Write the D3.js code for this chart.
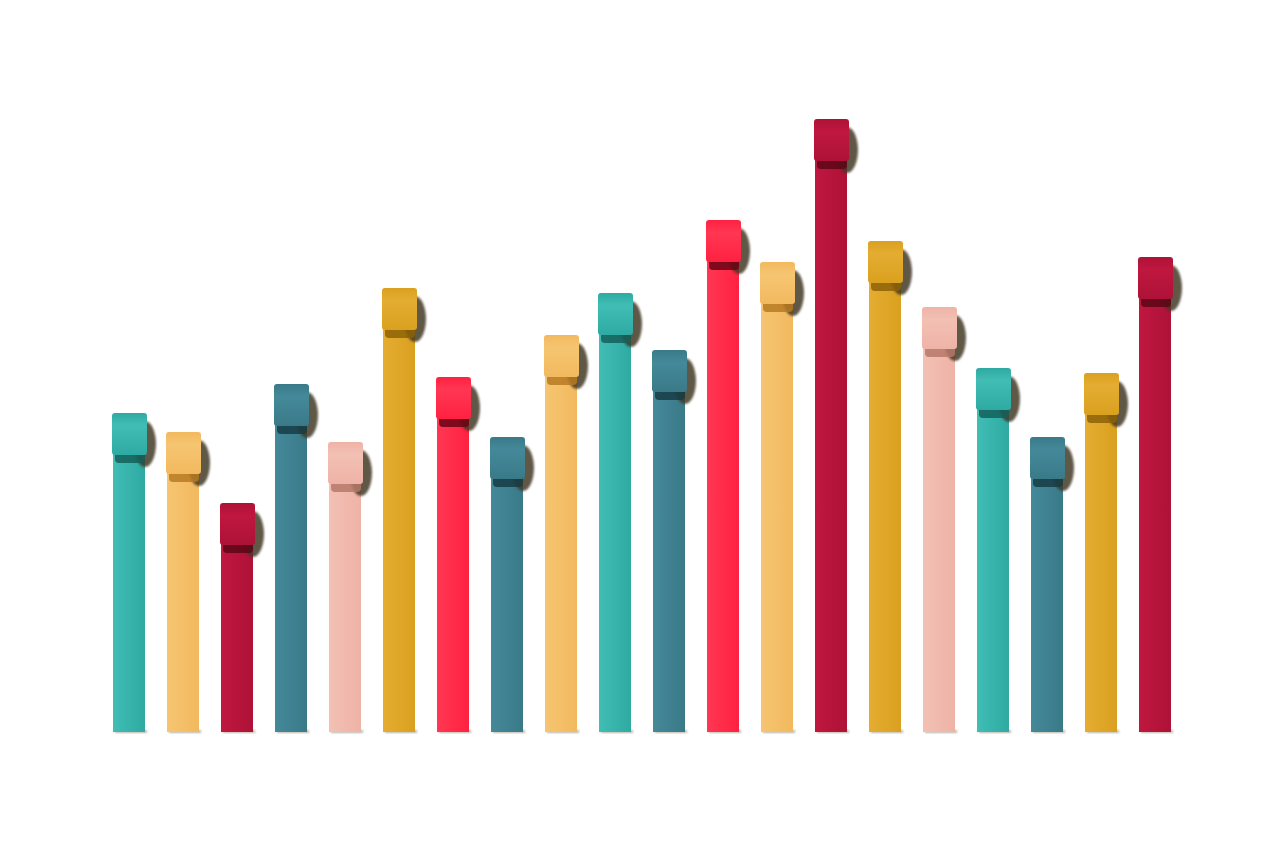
<!DOCTYPE html>
<html><head><meta charset="utf-8">
<script src="https://cdn.jsdelivr.net/npm/d3@7"></script>
<style>html,body{margin:0;padding:0;background:#fff;}svg{display:block;}</style>
</head><body>
<svg id="chart" width="1280" height="853"></svg>
<script>
const categories = ["1","2","3","4","5","6","7","8","9","10","11","12","13","14","15","16","17","18","19","20"];
const values = [319,300,229,348,290,444,355,295,397,439,382,512,470,613,491,425,364,295,359,475];
const colorNames = ["teal","sand","crimson","petrol","pink","mustard","red","petrol","sand","teal","petrol","red","sand","crimson","mustard","pink","teal","petrol","mustard","crimson"];
const palette = {
  teal:{base:"#2eaaa2",light:"#40bdb5",dark:"#14605a"},
  sand:{base:"#f2b95f",light:"#f6c571",dark:"#b77a22"},
  crimson:{base:"#ae1237",light:"#c0173f",dark:"#5c0616"},
  petrol:{base:"#3a7a88",light:"#44899a",dark:"#163c45"},
  pink:{base:"#eeb3a6",light:"#f3c0b4",dark:"#b5796b"},
  mustard:{base:"#daa01f",light:"#e4ad32",dark:"#8d6208"},
  red:{base:"#ff2141",light:"#ff3753",dark:"#6a0414"}
};

const svg = d3.select("#chart");
const x = d3.scaleBand().domain(categories).range([102,1182]).paddingInner(22/54).paddingOuter(11/54);
const y = d3.scaleLinear().domain([0,650]).range([732,82]);
const bw = x.bandwidth();
const rollH = 42;

const defs = svg.append("defs");
Object.entries(palette).forEach(([k,c])=>{
  const g = defs.append("linearGradient").attr("id","roll-"+k).attr("x1",0).attr("y1",0).attr("x2",0).attr("y2",1);
  g.append("stop").attr("offset","0%").attr("stop-color",c.base);
  g.append("stop").attr("offset","30%").attr("stop-color",c.light);
  g.append("stop").attr("offset","100%").attr("stop-color",c.base);
  const s = defs.append("linearGradient").attr("id","strip-"+k).attr("x1",0).attr("y1",0).attr("x2",1).attr("y2",0);
  s.append("stop").attr("offset","0%").attr("stop-color",c.light);
  s.append("stop").attr("offset","100%").attr("stop-color",c.base);
});
defs.append("filter").attr("id","blur").append("feGaussianBlur").attr("stdDeviation",1.0);

const data = categories.map((c,i)=>({c, v:values[i], col:palette[colorNames[i]], key:colorNames[i]}));
const g = svg.append("g");

// bottom shadows
g.selectAll(".bshadow").data(data).join("rect")
  .attr("x",d=>x(d.c)+2).attr("y",y(0)-2).attr("width",bw).attr("height",3)
  .attr("fill","#6b5a40").attr("opacity",0.45).attr("filter","url(#blur)");

// strips
g.selectAll(".strip").data(data).join("rect")
  .attr("x",d=>x(d.c)).attr("y",d=>y(d.v)+rollH-4).attr("width",bw)
  .attr("height",d=>y(0)-y(d.v)-rollH+4)
  .attr("fill",d=>"url(#strip-"+d.key+")");

// roll shadow on right
g.selectAll(".rshadow").data(data).join("ellipse")
  .attr("cx",d=>x(d.c)+bw).attr("cy",d=>y(d.v)+rollH/2+10)
  .attr("rx",11).attr("ry",rollH/2+2)
  .attr("fill","#453a28").attr("opacity",0.85).attr("filter","url(#blur)");

// shadow band under roll
g.selectAll(".ushadow").data(data).join("rect")
  .attr("x",d=>x(d.c)+2).attr("y",d=>y(d.v)+rollH-6).attr("width",bw-2).attr("height",14)
  .attr("rx",4)
  .attr("fill",d=>d.col.dark).attr("opacity",0.85);

// rolls
g.selectAll(".roll").data(data).join("rect")
  .attr("x",d=>x(d.c)-1).attr("y",d=>y(d.v)).attr("width",bw+3).attr("height",rollH)
  .attr("rx",3).attr("ry",3)
  .attr("fill",d=>"url(#roll-"+d.key+")");
</script>
</body></html>
